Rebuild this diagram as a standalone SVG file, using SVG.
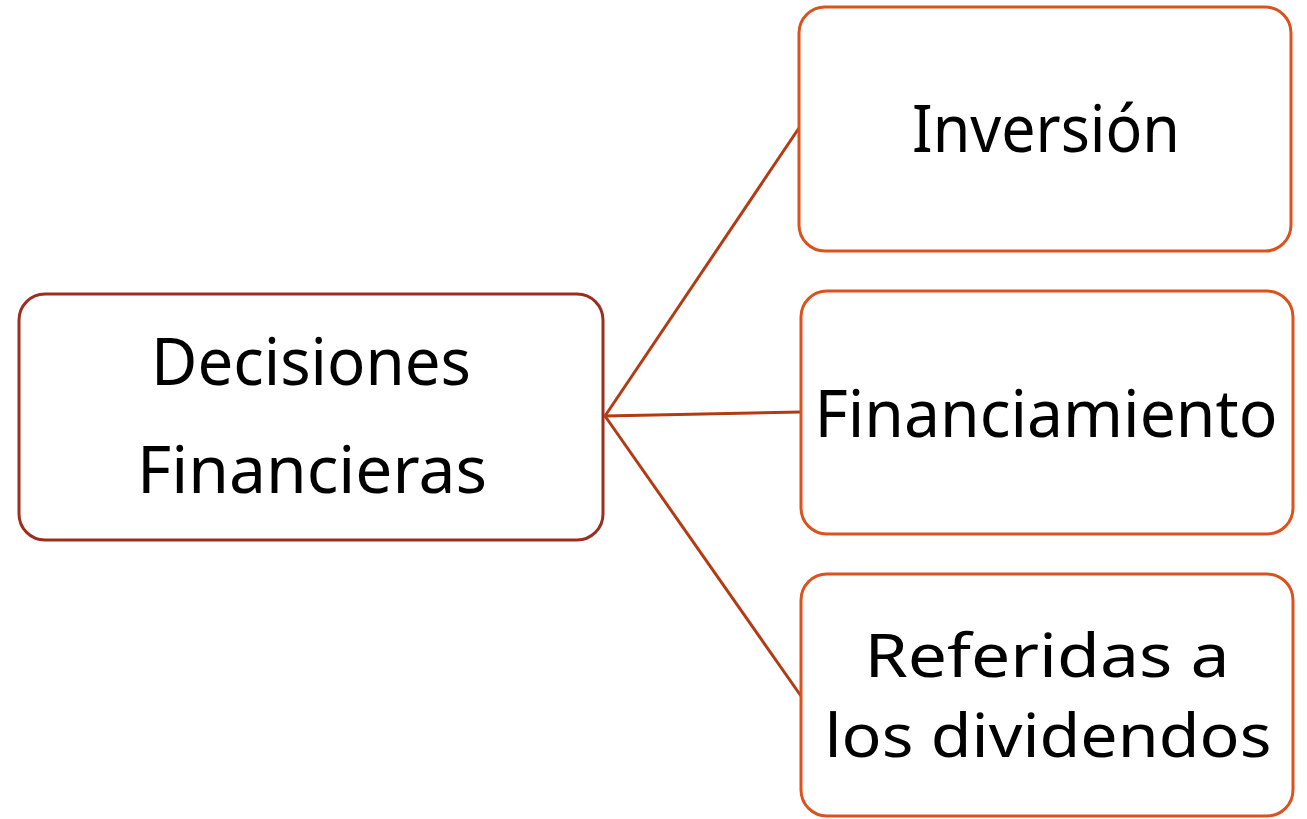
<svg xmlns="http://www.w3.org/2000/svg" width="1307" height="819" viewBox="0 0 1307 819">
<style>
.t{font-family:"Noto Sans","DejaVu Sans",sans-serif;font-size:66px;fill:#000;text-anchor:middle}
.s{font-size:60px}
.l{fill:#fff;stroke:#9C2E1F;stroke-width:3}
.r{fill:#fff;stroke:#D9531E;stroke-width:3}
.c{stroke:#B23B12;stroke-width:3;fill:none}
</style>
<rect width="1307" height="819" fill="#fff"/>
<g id="connectors">
<line class="c" x1="605" y1="416" x2="799" y2="128"/>
<line class="c" x1="605" y1="416" x2="801" y2="412"/>
<line class="c" x1="605" y1="416" x2="801" y2="696"/>
</g>
<g id="node-decisiones">
<rect class="l" x="19" y="294" width="584" height="246" rx="26"/>
<text class="t" x="311" y="385" textLength="320" lengthAdjust="spacingAndGlyphs">Decisiones</text>
<text class="t" x="312" y="493" textLength="350" lengthAdjust="spacingAndGlyphs">Financieras</text>
</g>
<g id="node-inversion">
<rect class="r" x="799" y="7" width="492" height="244" rx="26"/>
<text class="t" x="1046" y="152" textLength="268" lengthAdjust="spacingAndGlyphs">Inversión</text>
</g>
<g id="node-financiamiento">
<rect class="r" x="801" y="291" width="492" height="243" rx="26"/>
<text class="t" x="1046" y="437" textLength="463" lengthAdjust="spacingAndGlyphs">Financiamiento</text>
</g>
<g id="node-dividendos">
<rect class="r" x="801" y="574" width="492" height="242" rx="26"/>
<text class="t s" x="1047" y="677" textLength="365" lengthAdjust="spacingAndGlyphs">Referidas a</text>
<text class="t s" x="1048" y="757" textLength="447" lengthAdjust="spacingAndGlyphs">los dividendos</text>
</g>
</svg>
